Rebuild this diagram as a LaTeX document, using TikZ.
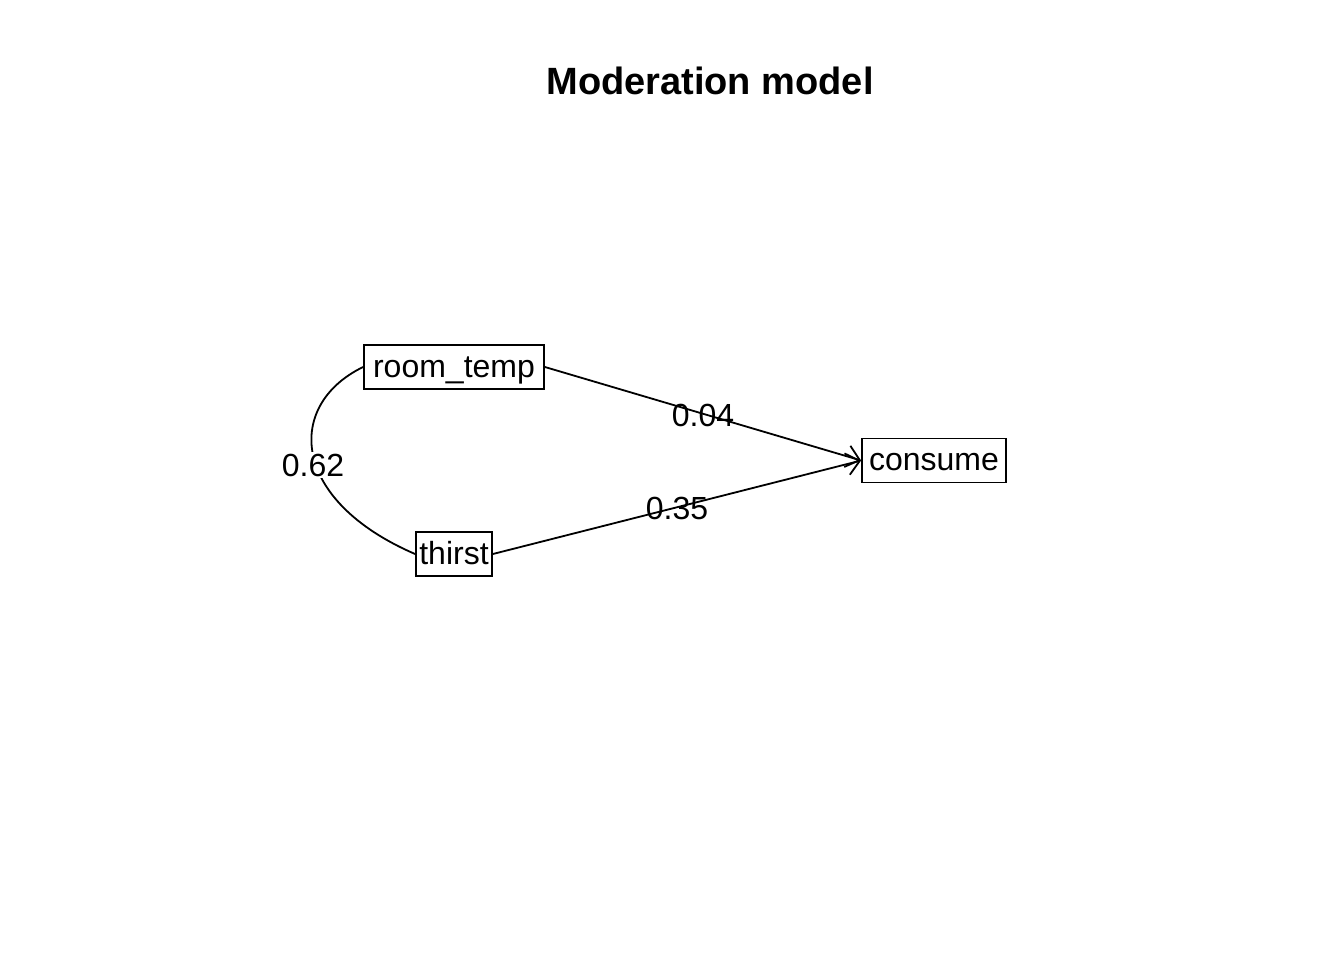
\documentclass[tikz,border=0pt]{standalone}
\usepackage{fontspec}
\setmainfont{Liberation Sans}
\usetikzlibrary{arrows.meta}
\begin{document}
\begin{tikzpicture}[x=1pt,y=-1pt,
  var/.style={draw,line width=1.8pt,font=\fontsize{32}{36}\selectfont,
    inner xsep=0pt,inner ysep=0pt,minimum height=44pt,text height=25pt,text depth=5pt},
  lab/.style={font=\fontsize{32}{36}\selectfont,inner sep=1pt},
  path/.style={line width=1.8pt,-{Straight Barb[length=13pt,width=22pt,line width=1.8pt]}},
  cov/.style={line width=1.8pt}]
\useasboundingbox (0,0) rectangle (1344,960);
\node[font=\bfseries\fontsize{38}{44}\selectfont] (title) at (710,81) {Moderation model};
\node[var,minimum width=180pt] (rt) at (454,367) {room\_temp};
\node[var,minimum width=144pt] (cons) at (934,460.5) {consume};
\node[var,minimum width=76pt] (th) at (454,554) {thirst};
\draw[path] (rt.east) -- node[lab,pos=0.5,yshift=-2pt] (l1) {0.04} (cons.west);
\draw[path] (th.east) -- node[lab,pos=0.5,yshift=-1pt] (l2) {0.35} (cons.west);
\draw[cov] (rt.west) .. controls (285,405) and (290,500) .. (th.west);
\node[lab,fill=white,inner sep=2pt] (l3) at (313,465) {0.62};
\end{tikzpicture}
\end{document}
